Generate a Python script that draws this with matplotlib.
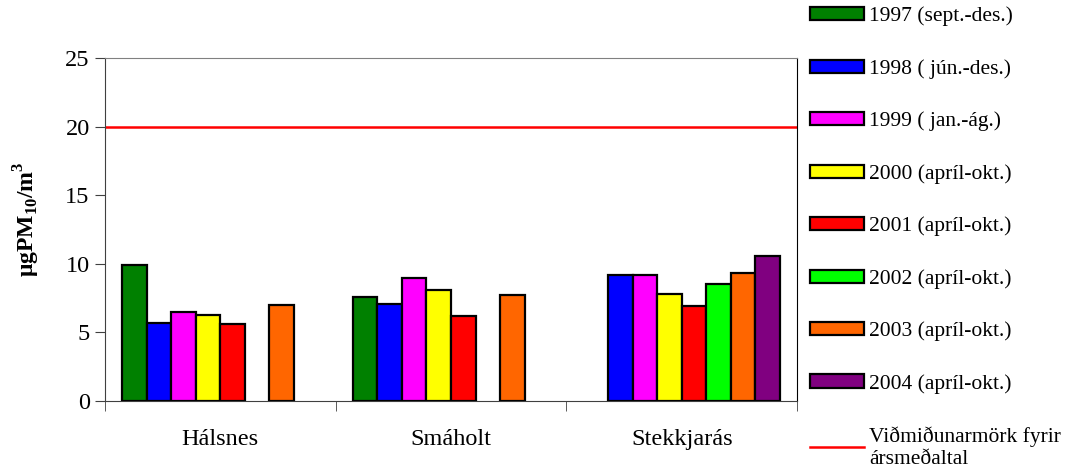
import numpy as np
import matplotlib
matplotlib.use("Agg")
import matplotlib.pyplot as plt

plt.rcParams['font.family'] = ['Liberation Serif', 'DejaVu Serif']
plt.rcParams['mathtext.fontset'] = 'custom'
plt.rcParams['mathtext.rm'] = 'Liberation Serif'
plt.rcParams['mathtext.bf'] = 'Liberation Serif:bold'

stations = ['Hálsnes', 'Smáholt', 'Stekkjarás']
periods = ['1997 (sept.-des.)', '1998 ( jún.-des.)', '1999 ( jan.-ág.)',
           '2000 (apríl-okt.)', '2001 (apríl-okt.)', '2002 (apríl-okt.)',
           '2003 (apríl-okt.)', '2004 (apríl-okt.)']
nan = np.nan
v1997 = [9.9, 7.6, nan]
v1998 = [5.7, 7.1, 9.2]
v1999 = [6.5, 9.0, 9.2]
v2000 = [6.3, 8.1, 7.8]
v2001 = [5.6, 6.2, 6.9]
v2002 = [nan, nan, 8.5]
v2003 = [7.0, 7.7, 9.3]
v2004 = [nan, nan, 10.6]
limit_value = 20
limit_label = 'Viðmiðunarmörk fyrir\nársmeðaltal'

series = [v1997, v1998, v1999, v2000, v2001, v2002, v2003, v2004]
colors = ['#008000', '#0000FF', '#FF00FF', '#FFFF00',
          '#FF0000', '#00FF00', '#FF6600', '#800080']

fig = plt.figure(figsize=(10.66, 4.75), dpi=100)
ax = fig.add_axes([0.0985, 0.1558, 0.6492, 0.7221])

x = np.arange(len(stations))
w = 0.1065
for i, (vals, col, lab) in enumerate(zip(series, colors, periods)):
    ax.bar(x + (i - 3.5) * w, vals, width=w, color=col, edgecolor='black',
           linewidth=1.6, label=lab, zorder=3)

ax.axhline(limit_value, color='#FF0000', linewidth=1.8, label=limit_label, zorder=2)

ax.set_xlim(-0.5, 2.5)
ax.set_ylim(0, 25)
ax.set_yticks([0, 5, 10, 15, 20, 25])
ax.set_xticks(x)
ax.set_xticklabels(stations)
ax.set_xticks([-0.5, 0.5, 1.5, 2.5], minor=True)
ax.tick_params(axis='x', which='major', length=0, pad=20, labelsize=17.5)
ax.tick_params(axis='x', which='minor', length=7, direction='out', color='#404040')
ax.tick_params(axis='y', length=7, direction='out', labelsize=17.5, pad=4, color='#404040')

for side in ['left', 'bottom']:
    ax.spines[side].set_color('#404040')
ax.spines['top'].set_color('#808080')
ax.spines['right'].set_color('black')

ax.set_ylabel(r'μgPM$_{\mathbf{10}}$/m$^{\mathbf{3}}$', fontsize=17, fontweight='bold')
ax.yaxis.set_label_coords(-0.091, 0.53)

handles, labels = ax.get_legend_handles_labels()
handles = handles[1:] + handles[:1]
labels = labels[1:] + labels[:1]
fig.legend(handles, labels, loc='upper left', bbox_to_anchor=(0.752, 1.004),
           frameon=False, fontsize=15.5, handlelength=2.5, handleheight=0.56,
           handletextpad=0.22, labelspacing=1.52, borderaxespad=0)

fig.savefig('out.png', dpi=100)
